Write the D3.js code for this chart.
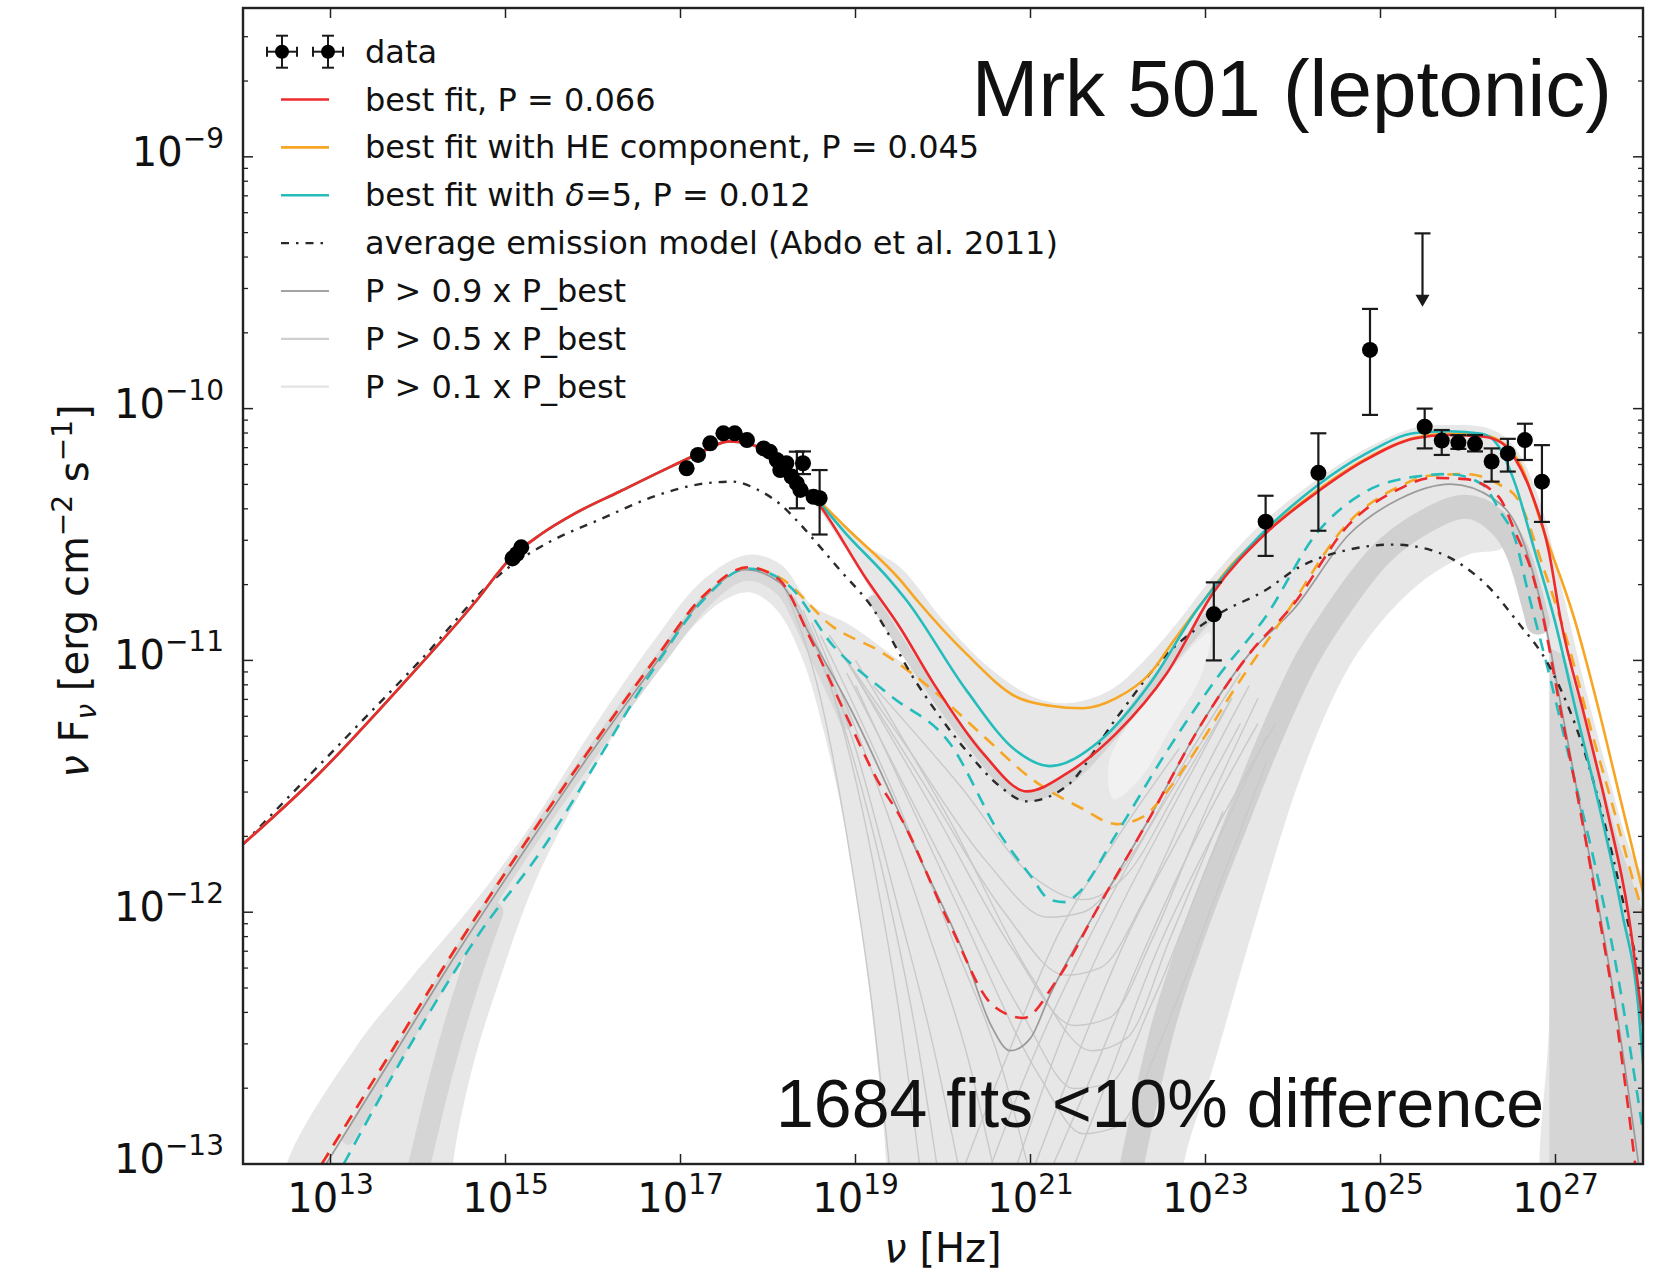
<!DOCTYPE html>
<html>
<head>
<meta charset="utf-8">
<script src="https://cdn.jsdelivr.net/npm/d3@7/dist/d3.min.js"></script>
<style>
  body { margin: 0; background: #fff; }
  svg text { font-family: "DejaVu Sans", sans-serif; fill: #111; }
</style>
</head>
<body>
<svg id="chart" width="1655" height="1276"></svg>
<script>
// all series are [log10 nu, log10 nuFnu]
var nuDomain = [1e12, 1e28];
var fluxDomain = [1e-13, 3.9e-9];
var xTickExp = [13, 15, 17, 19, 21, 23, 25, 27];
var yTickExp = [-13, -12, -11, -10, -9];

// synchrotron part shared by the three total fits
var syncTotal = [[12.0,-11.73],[12.84,-11.46],[13.81,-11.10],[14.65,-10.77],[15.07,-10.59],[15.4,-10.5],[15.8,-10.415],[16.3,-10.33],[16.8,-10.245],[17.2,-10.18],[17.55,-10.13],[17.79,-10.14],[18.15,-10.22]];
var bestHigh = [[18.56,-10.37],[19.13,-10.68],[19.51,-10.87],[19.89,-11.09],[20.46,-11.37],[20.96,-11.52],[21.41,-11.45],[21.98,-11.29],[22.56,-11.05],[23.09,-10.73],[23.69,-10.495],[24.26,-10.336],[24.83,-10.204],[25.4,-10.118],[25.78,-10.105],[26.16,-10.111],[26.39,-10.137],[26.54,-10.2],[26.73,-10.34],[26.92,-10.56],[27.06,-10.84],[27.33,-11.22],[27.6,-11.61],[27.83,-12.0],[28.0,-12.45]];
var heHigh = [[18.45,-10.32],[18.9,-10.475],[19.51,-10.68],[19.7,-10.76],[20.27,-10.975],[20.84,-11.145],[21.22,-11.18],[21.6,-11.19],[21.98,-11.15],[22.37,-11.05],[22.64,-10.92],[22.94,-10.78],[23.3,-10.62],[23.69,-10.49],[24.26,-10.33],[24.83,-10.2],[25.4,-10.115],[25.78,-10.1],[26.16,-10.105],[26.35,-10.125],[26.61,-10.23],[26.87,-10.49],[27.22,-10.84],[27.49,-11.19],[27.72,-11.52],[28.0,-11.92]];
var deltaHigh = [[18.45,-10.32],[18.9,-10.5],[19.39,-10.68],[19.58,-10.76],[20.27,-11.12],[20.84,-11.36],[21.22,-11.42],[21.79,-11.32],[22.37,-11.09],[22.9,-10.8],[23.47,-10.56],[24.26,-10.31],[24.83,-10.18],[25.4,-10.097],[25.78,-10.09],[26.16,-10.1],[26.35,-10.15],[26.54,-10.3],[26.75,-10.55],[26.99,-10.84],[27.25,-11.225],[27.52,-11.61],[27.76,-12.0],[27.95,-12.39],[28.0,-12.6]];
var avgModel = [[12.0,-11.73],[13.0,-11.37],[14.0,-11.01],[15.0,-10.64],[15.5,-10.53],[16.08,-10.44],[16.77,-10.34],[17.22,-10.3],[17.6,-10.29],[17.87,-10.32],[18.14,-10.38],[18.37,-10.46],[18.56,-10.535],[18.82,-10.64],[19.17,-10.78],[19.7,-11.09],[20.27,-11.36],[20.65,-11.5],[20.96,-11.56],[21.41,-11.5],[21.98,-11.23],[22.56,-10.975],[23.13,-10.82],[23.69,-10.72],[24.07,-10.63],[24.64,-10.56],[25.14,-10.54],[25.56,-10.56],[25.97,-10.63],[26.24,-10.71],[26.55,-10.84],[26.94,-11.03],[27.32,-11.35],[27.6,-11.7],[27.8,-12.0],[28.0,-12.3]];

// component curves (dashed)
var bestComp = [[12.9,-13.0],[13.64,-12.585],[14.4,-12.16],[15.12,-11.78],[15.93,-11.37],[16.7,-11.0],[17.26,-10.744],[17.77,-10.63],[18.13,-10.68],[18.48,-10.91],[18.89,-11.216],[19.25,-11.475],[19.51,-11.62],[20.08,-12.05],[20.57,-12.37],[20.92,-12.42],[21.3,-12.27],[21.79,-11.97],[22.37,-11.62],[22.94,-11.26],[23.51,-10.97],[24.0,-10.78],[24.64,-10.46],[25.21,-10.32],[25.59,-10.275],[25.97,-10.28],[26.35,-10.35],[26.55,-10.5],[26.73,-10.65],[26.84,-10.8],[27.06,-11.2],[27.29,-11.61],[27.49,-12.0],[27.68,-12.39],[27.83,-12.775],[27.91,-13.0]];
var heComp = [[12.9,-13.0],[13.64,-12.585],[14.4,-12.16],[15.12,-11.78],[15.93,-11.37],[16.7,-11.0],[17.26,-10.744],[17.77,-10.63],[18.13,-10.67],[18.74,-10.866],[19.31,-10.97],[19.89,-11.12],[20.46,-11.3],[21.03,-11.475],[21.6,-11.59],[21.98,-11.65],[22.29,-11.62],[22.56,-11.52],[22.94,-11.33],[23.32,-11.12],[23.89,-10.83],[24.64,-10.45],[25.21,-10.31],[25.59,-10.265],[25.97,-10.26],[26.35,-10.3],[26.57,-10.36],[26.87,-10.64],[27.14,-10.93],[27.41,-11.28],[27.68,-11.61],[27.91,-11.9],[28.0,-12.0]];
var deltaComp = [[13.15,-13.0],[13.89,-12.54],[14.71,-12.08],[15.42,-11.75],[16.03,-11.41],[16.7,-11.03],[17.26,-10.76],[17.77,-10.635],[18.23,-10.7],[18.74,-10.94],[19.4,-11.14],[20.08,-11.33],[20.65,-11.69],[21.0,-11.855],[21.22,-11.95],[21.4,-11.96],[21.53,-11.93],[21.98,-11.69],[22.56,-11.36],[23.13,-11.07],[23.7,-10.82],[24.26,-10.5],[24.83,-10.33],[25.4,-10.27],[25.78,-10.26],[26.16,-10.3],[26.37,-10.41],[26.54,-10.52],[26.68,-10.72],[26.91,-11.03],[27.18,-11.42],[27.45,-11.81],[27.68,-12.19],[27.87,-12.58],[28.0,-12.87]];
var greyBest = [[12.95,-13.0],[13.7,-12.58],[14.45,-12.16],[15.15,-11.79],[15.95,-11.38],[16.72,-11.01],[17.27,-10.75],[17.75,-10.64],[18.13,-10.69],[18.48,-10.9],[18.94,-11.19],[19.7,-11.76],[20.27,-12.19],[20.55,-12.45],[20.77,-12.55],[21.0,-12.5],[21.22,-12.33],[21.79,-11.97],[22.37,-11.62],[22.94,-11.26],[23.51,-10.97],[24.0,-10.8],[24.64,-10.5],[25.21,-10.36],[25.8,-10.3],[26.3,-10.36],[26.6,-10.5],[26.85,-10.8],[27.1,-11.25],[27.4,-11.8],[27.7,-12.4],[27.95,-13.0]];

// thin grey fits fanning through the trough
var fanLines = [
  [[18.2,-10.72],[18.6,-11.15],[18.95,-11.8],[19.2,-12.4],[19.4,-13.05]],
  [[18.3,-10.75],[18.8,-11.2],[19.2,-11.8],[19.5,-12.4],[19.75,-13.05]],
  [[18.35,-10.78],[18.9,-11.3],[19.35,-11.9],[19.7,-12.5],[19.95,-13.05]],
  [[18.4,-10.8],[19.0,-11.35],[19.5,-12.0],[19.9,-12.55],[20.2,-13.05]],
  [[18.5,-10.85],[19.2,-11.45],[19.8,-12.05],[20.3,-12.6],[20.6,-13.05]],
  [[18.6,-10.9],[19.4,-11.5],[20.1,-12.1],[20.7,-12.65],[21.0,-13.05]],
  [[18.7,-10.9],[19.6,-11.35],[20.5,-11.8],[21.2,-12.02],[21.6,-12.0],[22.2,-11.75],[22.8,-11.38],[23.4,-11.05]],
  [[18.8,-10.95],[19.8,-11.5],[20.7,-12.0],[21.4,-12.25],[21.8,-12.22],[22.3,-11.95],[22.9,-11.5],[23.5,-11.1]],
  [[18.9,-11.0],[19.9,-11.6],[20.8,-12.15],[21.5,-12.45],[21.9,-12.42],[22.4,-12.1],[23.0,-11.6],[23.6,-11.15]],
  [[18.9,-11.05],[20.0,-11.8],[20.9,-12.4],[21.5,-12.7],[21.9,-12.68],[22.4,-12.35],[23.1,-11.75],[23.7,-11.3]],
  [[19.0,-11.1],[20.2,-12.0],[21.1,-12.65],[21.6,-12.88],[22.0,-12.85],[22.5,-12.5],[23.1,-11.95],[23.7,-11.4]],
  [[19.2,-11.1],[20.2,-11.5],[21.0,-11.85],[21.6,-11.95],[22.1,-11.85],[22.7,-11.5],[23.3,-11.15]],
  [[19.0,-11.0],[20.1,-11.65],[21.0,-12.25],[21.7,-12.55],[22.1,-12.5],[22.6,-12.1],[23.2,-11.6]],
  [[20.2,-13.05],[20.7,-12.6],[21.3,-12.1],[22.0,-11.7],[22.7,-11.35]],
  [[20.5,-13.05],[21.0,-12.6],[21.6,-12.15],[22.3,-11.7],[23.0,-11.3]],
  [[20.8,-13.05],[21.3,-12.55],[22.0,-12.0],[22.6,-11.6],[23.3,-11.15]],
  [[21.0,-13.05],[21.5,-12.6],[22.1,-12.1],[22.7,-11.7],[23.4,-11.25]],
  [[21.2,-13.05],[21.7,-12.65],[22.3,-12.15],[22.9,-11.7],[23.6,-11.25]],
  [[21.45,-13.05],[21.9,-12.65],[22.45,-12.15],[23.0,-11.75],[23.8,-11.25]]
];

// light grey envelopes of the 1684 fits
var solidBand = [[18.45,-10.33],[18.8,-10.44],[19.1,-10.54],[19.51,-10.63],[20.0,-10.84],[20.5,-11.02],[21.0,-11.14],[21.4,-11.17],[21.9,-11.12],[22.3,-11.0],[22.7,-10.84],[23.1,-10.66],[23.6,-10.47],[24.2,-10.3],[24.8,-10.165],[25.4,-10.075],[25.8,-10.065],[26.2,-10.075],[26.45,-10.12],[26.65,-10.22],[26.85,-10.4],[27.05,-10.68],[27.3,-11.05],[27.6,-11.45],[27.85,-11.75],[28.1,-11.95],[28.1,-12.6],[28.1,-13.2],[27.5,-13.2],[26.93,-13.2],[26.93,-12.4],[26.93,-11.6],[26.93,-10.97],[26.75,-10.75],[26.5,-10.55],[26.2,-10.44],[25.9,-10.43],[25.5,-10.47],[25.0,-10.58],[24.5,-10.72],[24.0,-10.9],[23.5,-11.1],[23.0,-11.32],[22.5,-11.56],[22.0,-11.74],[21.5,-11.75],[21.0,-11.66],[20.5,-11.5],[20.0,-11.25],[19.6,-11.0],[19.3,-10.8],[19.0,-10.62],[18.7,-10.46]];
var lowerBand = [[12.45,-13.2],[12.5,-13.0],[13.3,-12.53],[13.9,-12.27],[14.67,-11.95],[15.3,-11.65],[16.0,-11.27],[16.7,-10.92],[17.26,-10.68],[17.77,-10.58],[18.15,-10.62],[18.5,-10.78],[18.94,-10.86],[19.5,-11.0],[20.1,-11.15],[20.6,-11.3],[21.1,-11.45],[21.6,-11.56],[22.0,-11.6],[22.4,-11.55],[22.9,-11.3],[23.4,-11.05],[23.9,-10.8],[24.4,-10.58],[25.0,-10.42],[25.5,-10.36],[26.0,-10.36],[26.4,-10.42],[26.4,-10.55],[26.0,-10.58],[25.5,-10.68],[25.0,-10.85],[24.6,-11.05],[24.1,-11.45],[23.6,-12.0],[23.1,-12.6],[22.75,-13.0],[22.7,-13.2],[21.0,-13.2],[19.35,-13.2],[19.35,-13.0],[19.25,-12.6],[19.1,-12.15],[18.9,-11.7],[18.65,-11.3],[18.4,-11.0],[18.1,-10.8],[17.8,-10.73],[17.5,-10.76],[17.0,-10.92],[16.5,-11.15],[15.9,-11.5],[15.35,-11.87],[14.95,-12.25],[14.62,-12.62],[14.4,-13.0],[14.38,-13.2]];
var rightShade = [[26.93,-10.95],[27.1,-10.98],[27.4,-11.3],[27.7,-11.7],[28.1,-12.1],[28.1,-13.2],[26.93,-13.2]];
var riseGap = [[21.9,-11.4],[22.3,-11.17],[22.7,-11.0],[23.05,-10.89],[22.95,-11.06],[22.6,-11.27],[22.25,-11.47],[21.95,-11.55]];

// darker stripes where many fits overlap
var stripeSyncLeft = [[13.95,-13.1],[14.3,-12.6],[14.6,-12.25],[14.85,-12.0]];
var stripeSyncCore = [[13.2,-12.9],[14.0,-12.43],[15.0,-11.87],[16.0,-11.36],[16.8,-10.98],[17.3,-10.76],[17.77,-10.66],[18.15,-10.72],[18.5,-10.95],[18.9,-11.25]];
var stripeIC = [[22.1,-13.1],[22.5,-12.475],[22.9,-12.05],[23.3,-11.69],[23.75,-11.3],[24.15,-11.0],[24.55,-10.78],[25.0,-10.58],[25.5,-10.45],[25.97,-10.39],[26.3,-10.44],[26.6,-10.6],[26.8,-10.85]];
var stripeTrough = [[19.2,-10.76],[19.7,-11.03],[20.3,-11.32],[20.96,-11.54],[21.41,-11.48],[22.0,-11.27],[22.56,-11.02],[23.1,-10.8]];

// measurements: [log nu, log nuFnu] or [log nu, log nuFnu, low, high]
var optData = [[15.08,-10.595],[15.13,-10.577],[15.18,-10.551]];
var xrayData = [[17.07,-10.237],[17.2,-10.184],[17.34,-10.138],[17.49,-10.098],[17.62,-10.098],[17.76,-10.125],[17.95,-10.158],[18.02,-10.171],[18.1,-10.204],[18.14,-10.244],[18.21,-10.217],[18.27,-10.27],[18.33,-10.297],[18.37,-10.323],[18.4,-10.217],[18.52,-10.35],[18.59,-10.356]];
var xrayErr = [[18.33,-10.297,-10.396,-10.171],[18.4,-10.217,-10.26,-10.17],[18.59,-10.356,-10.5,-10.244]];
var gammaData = [[23.095,-10.817,-11.0,-10.69],[23.687,-10.449,-10.585,-10.346],[24.29,-10.255,-10.485,-10.098],[24.88,-9.767,-10.025,-9.604],[25.505,-10.072,-10.158,-10.0],[25.7,-10.127,-10.184,-10.085],[25.89,-10.135,-10.16,-10.105],[26.08,-10.14,-10.17,-10.105],[26.27,-10.21,-10.29,-10.158],[26.455,-10.178,-10.25,-10.12],[26.65,-10.125,-10.204,-10.06],[26.845,-10.29,-10.45,-10.145]];
var upperLimit = [25.48, -9.304, -9.595];

var legendLabels = ["data", "best fit, P = 0.066", "best fit with HE component, P = 0.045", "best fit with \u03b4=5, P = 0.012", "average emission model (Abdo et al. 2011)", "P > 0.9 x P_best", "P > 0.5 x P_best", "P > 0.1 x P_best"];

var RED = "#ee2a2c", ORANGE = "#f7a623", CYAN = "#25bcbc";

var syncLow = function(cut) { return syncTotal.filter(function(d) { return d[0] < cut; }); };
var bestFit = syncTotal.concat(bestHigh);
var heFit = syncLow(18.45).concat(heHigh);
var deltaFit = syncLow(18.45).concat(deltaHigh);

var W = 1655, H = 1276;
var margin = {left: 243, right: 12, top: 8, bottom: 112};
var svg = d3.select("#chart");

var x = d3.scaleLog().domain(nuDomain).range([margin.left, W - margin.right]);
var y = d3.scaleLog().domain(fluxDomain).range([H - margin.bottom, margin.top]);

function px(d) { return x(Math.pow(10, d[0])); }
function py(d) { return y(Math.pow(10, d[1])); }

var curve = d3.line().x(px).y(py).curve(d3.curveMonotoneX);
var shape = d3.line().x(px).y(py).curve(d3.curveCatmullRomClosed.alpha(0.5));
var poly = d3.line().x(px).y(py).curve(d3.curveLinearClosed);

svg.append("defs").append("clipPath").attr("id", "plotclip")
   .append("rect")
   .attr("x", margin.left).attr("y", margin.top)
   .attr("width", W - margin.left - margin.right)
   .attr("height", H - margin.top - margin.bottom);

var plot = svg.append("g").attr("clip-path", "url(#plotclip)");

// grey fit envelopes
[lowerBand, solidBand].forEach(function(p) {
  plot.append("path").attr("d", shape(p)).attr("fill", "#e7e7e7");
});
plot.append("path").attr("d", poly(rightShade)).attr("fill", "#d5d5d5");
plot.append("path").attr("d", shape(riseGap)).attr("fill", "#f1f1f1");

function stripe(pts, w, col) {
  plot.append("path").attr("d", curve(pts))
      .attr("fill", "none").attr("stroke", col).attr("stroke-width", w)
      .attr("stroke-linecap", "round").attr("stroke-linejoin", "round");
}
stripe(stripeSyncLeft, 22, "#d5d5d5");
stripe(stripeSyncCore, 12, "#d8d8d8");
stripe(stripeIC, 24, "#d0d0d0");
stripe(stripeTrough, 10, "#d4d4d4");

fanLines.forEach(function(f) {
  plot.append("path").attr("d", curve(f))
      .attr("fill", "none").attr("stroke", "#c9c9c9").attr("stroke-width", 1.4);
});

plot.append("path").attr("d", curve(greyBest))
    .attr("fill", "none").attr("stroke", "#9a9a9a").attr("stroke-width", 1.7);

// components (dashed)
[[heComp, ORANGE], [deltaComp, CYAN], [bestComp, RED]].forEach(function(c) {
  plot.append("path").attr("d", curve(c[0]))
      .attr("fill", "none").attr("stroke", c[1]).attr("stroke-width", 2.6)
      .attr("stroke-dasharray", "13,9");
});

plot.append("path").attr("d", curve(avgModel))
    .attr("fill", "none").attr("stroke", "#2a2a2a").attr("stroke-width", 2.4)
    .attr("stroke-dasharray", "8,7,2.5,7");

// total models
[[heFit, ORANGE], [deltaFit, CYAN], [bestFit, RED]].forEach(function(c) {
  plot.append("path").attr("d", curve(c[0]))
      .attr("fill", "none").attr("stroke", c[1]).attr("stroke-width", 2.6);
});

// data
var dataG = plot.append("g");
function errBar(d) {
  var cx = px(d), y1 = y(Math.pow(10, d[2])), y2 = y(Math.pow(10, d[3]));
  dataG.append("line").attr("x1", cx).attr("x2", cx).attr("y1", y1).attr("y2", y2)
       .attr("stroke", "#1a1a1a").attr("stroke-width", 2.2);
  [y1, y2].forEach(function(yy) {
    dataG.append("line").attr("x1", cx - 8).attr("x2", cx + 8).attr("y1", yy).attr("y2", yy)
         .attr("stroke", "#1a1a1a").attr("stroke-width", 2.2);
  });
}
xrayErr.forEach(errBar);
gammaData.forEach(errBar);

var ulx = x(Math.pow(10, upperLimit[0]));
var ulTop = y(Math.pow(10, upperLimit[1])), ulTip = y(Math.pow(10, upperLimit[2]));
dataG.append("line").attr("x1", ulx).attr("x2", ulx).attr("y1", ulTop).attr("y2", ulTip - 10)
     .attr("stroke", "#1a1a1a").attr("stroke-width", 2.2);
dataG.append("line").attr("x1", ulx - 8).attr("x2", ulx + 8).attr("y1", ulTop).attr("y2", ulTop)
     .attr("stroke", "#1a1a1a").attr("stroke-width", 2.2);
dataG.append("path")
     .attr("d", "M" + (ulx - 7) + "," + (ulTip - 12) + "L" + (ulx + 7) + "," + (ulTip - 12) + "L" + ulx + "," + ulTip + "Z")
     .attr("fill", "#1a1a1a");

dataG.selectAll("circle.pt")
     .data(optData.concat(xrayData).concat(gammaData))
     .enter().append("circle")
     .attr("class", "pt")
     .attr("cx", px).attr("cy", py).attr("r", 8)
     .attr("fill", "#000");

// frame + ticks
var x0 = margin.left, x1 = W - margin.right, y0 = margin.top, y1 = H - margin.bottom;
var axG = svg.append("g").attr("stroke", "#222");
xTickExp.forEach(function(e) {
  var tx = x(Math.pow(10, e));
  axG.append("line").attr("x1", tx).attr("x2", tx).attr("y1", y1).attr("y2", y1 - 10).attr("stroke-width", 1.5);
  axG.append("line").attr("x1", tx).attr("x2", tx).attr("y1", y0).attr("y2", y0 + 10).attr("stroke-width", 1.5);
});
var minorY = [];
for (var e = -13; e <= -9; e++) {
  for (var m = 2; m <= 9; m++) {
    if (m * Math.pow(10, e) < fluxDomain[1]) minorY.push(m * Math.pow(10, e));
  }
}
minorY.forEach(function(v) {
  var ty = y(v);
  axG.append("line").attr("x1", x0).attr("x2", x0 + 5).attr("y1", ty).attr("y2", ty).attr("stroke-width", 1.3);
  axG.append("line").attr("x1", x1).attr("x2", x1 - 5).attr("y1", ty).attr("y2", ty).attr("stroke-width", 1.3);
});
yTickExp.forEach(function(e) {
  var ty = y(Math.pow(10, e));
  axG.append("line").attr("x1", x0).attr("x2", x0 + 10).attr("y1", ty).attr("y2", ty).attr("stroke-width", 1.5);
  axG.append("line").attr("x1", x1).attr("x2", x1 - 10).attr("y1", ty).attr("y2", ty).attr("stroke-width", 1.5);
});
axG.append("rect").attr("x", x0).attr("y", y0).attr("width", x1 - x0).attr("height", y1 - y0)
   .attr("fill", "none").attr("stroke-width", 2.4);

// tick labels
var tickG = svg.append("g").attr("font-size", 40);
xTickExp.forEach(function(e) {
  var t = tickG.append("text").attr("x", x(Math.pow(10, e))).attr("y", 1212).attr("text-anchor", "middle");
  t.append("tspan").text("10");
  t.append("tspan").attr("dy", -18).attr("font-size", 28).text(String(e));
});
yTickExp.forEach(function(e) {
  var t = tickG.append("text").attr("x", 224).attr("y", y(Math.pow(10, e)) + 9).attr("text-anchor", "end");
  t.append("tspan").text("10");
  t.append("tspan").attr("dy", -18).attr("font-size", 28).text("\u2212" + (-e));
});

// axis titles
var xl = svg.append("text").attr("x", 943).attr("y", 1262).attr("text-anchor", "middle").attr("font-size", 40);
xl.append("tspan").attr("font-style", "italic").text("\u03bd");
xl.append("tspan").text(" [Hz]");

var yl = svg.append("text").attr("transform", "translate(88,591) rotate(-90)")
            .attr("text-anchor", "middle").attr("font-size", 40);
yl.append("tspan").attr("font-style", "italic").text("\u03bd");
yl.append("tspan").text(" F");
yl.append("tspan").attr("font-style", "italic").attr("font-size", 28).attr("dy", 8).text("\u03bd");
yl.append("tspan").attr("dy", -8).text(" [erg cm");
yl.append("tspan").attr("font-size", 28).attr("dy", -16).text("\u22122");
yl.append("tspan").attr("dy", 16).text(" s");
yl.append("tspan").attr("font-size", 28).attr("dy", -16).text("\u22121");
yl.append("tspan").attr("dy", 16).text("]");

// legend
var leg = svg.append("g");
var legY0 = 51.7, legStep = 47.86;
var legStyles = [
  null,
  {c: RED, w: 2.6},
  {c: ORANGE, w: 2.6},
  {c: CYAN, w: 2.6},
  {c: "#2a2a2a", w: 2.4, dash: "8,7,2.5,7"},
  {c: "#a3a3a3", w: 2.2},
  {c: "#cfcfcf", w: 2.2},
  {c: "#e3e3e3", w: 2.2}
];
legendLabels.forEach(function(lab, i) {
  var cy = legY0 + i * legStep;
  var st = legStyles[i];
  if (st) {
    var ln = leg.append("line").attr("x1", 281).attr("x2", 329).attr("y1", cy).attr("y2", cy)
                .attr("stroke", st.c).attr("stroke-width", st.w);
    if (st.dash) ln.attr("stroke-dasharray", st.dash);
  } else {
    [282, 328].forEach(function(mx) {
      leg.append("line").attr("x1", mx - 15).attr("x2", mx + 15).attr("y1", cy).attr("y2", cy).attr("stroke", "#1a1a1a").attr("stroke-width", 2);
      leg.append("line").attr("x1", mx).attr("x2", mx).attr("y1", cy - 16).attr("y2", cy + 16).attr("stroke", "#1a1a1a").attr("stroke-width", 2);
      leg.append("line").attr("x1", mx - 6).attr("x2", mx + 6).attr("y1", cy - 16).attr("y2", cy - 16).attr("stroke", "#1a1a1a").attr("stroke-width", 2);
      leg.append("line").attr("x1", mx - 6).attr("x2", mx + 6).attr("y1", cy + 16).attr("y2", cy + 16).attr("stroke", "#1a1a1a").attr("stroke-width", 2);
      leg.append("line").attr("x1", mx - 15).attr("x2", mx - 15).attr("y1", cy - 5).attr("y2", cy + 5).attr("stroke", "#1a1a1a").attr("stroke-width", 2);
      leg.append("line").attr("x1", mx + 15).attr("x2", mx + 15).attr("y1", cy - 5).attr("y2", cy + 5).attr("stroke", "#1a1a1a").attr("stroke-width", 2);
      leg.append("circle").attr("cx", mx).attr("cy", cy).attr("r", 7).attr("fill", "#000");
    });
  }
  var t = leg.append("text").attr("x", 365).attr("y", cy + 11).attr("font-size", 32).attr("fill", "#222");
  var parts = lab.split("\u03b4");
  t.append("tspan").text(parts[0]);
  if (parts.length > 1) {
    t.append("tspan").attr("font-style", "italic").text("\u03b4");
    t.append("tspan").text(parts[1]);
  }
});

// annotations
svg.append("text").attr("x", 1612).attr("y", 116).attr("text-anchor", "end")
   .style("font-family", "'Liberation Sans', Arial, sans-serif").attr("font-size", 80).attr("fill", "#000")
   .text("Mrk 501 (leptonic)");
svg.append("text").attr("x", 776).attr("y", 1127)
   .style("font-family", "'Liberation Sans', Arial, sans-serif").attr("font-size", 68).attr("fill", "#000")
   .text("1684 fits <10% difference");
</script>
</body>
</html>
